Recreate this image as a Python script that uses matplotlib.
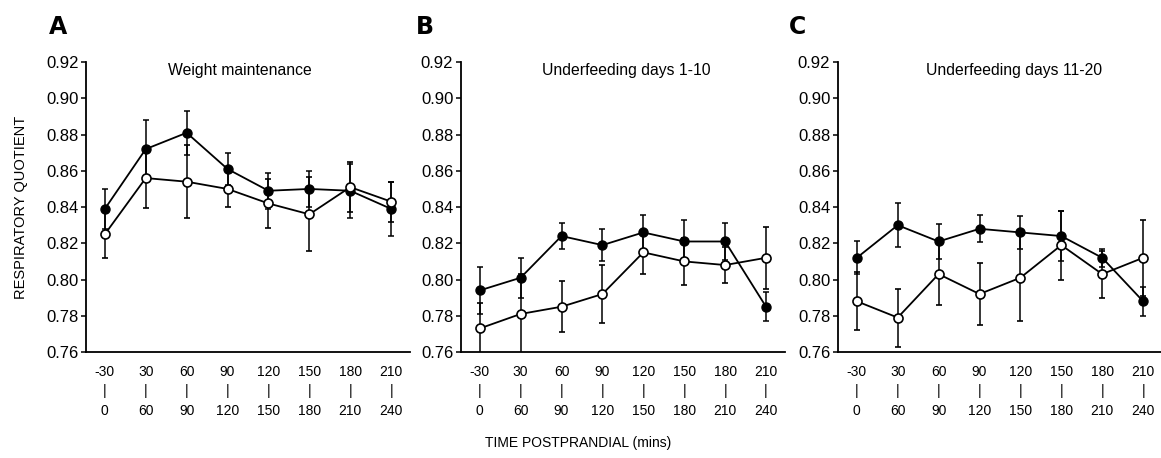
import numpy as np
import matplotlib
matplotlib.use('Agg')
import matplotlib.pyplot as plt

plt.rcParams['font.family'] = ['Liberation Sans', 'DejaVu Sans']

# 数据
top_labels = ['-30', '30', '60', '90', '120', '150', '180', '210']
bottom_labels = ['0', '60', '90', '120', '150', '180', '210', '240']
titles = ['Weight maintenance', 'Underfeeding days 1-10', 'Underfeeding days 11-20']
letters = ['A', 'B', 'C']

# 实心点
filled_a = [0.839, 0.872, 0.881, 0.861, 0.849, 0.850, 0.849, 0.839]
filled_a_err = [0.011, 0.016, 0.012, 0.009, 0.010, 0.010, 0.015, 0.015]
filled_b = [0.794, 0.801, 0.824, 0.819, 0.826, 0.821, 0.821, 0.785]
filled_b_err = [0.013, 0.011, 0.007, 0.009, 0.0095, 0.012, 0.010, 0.008]
filled_c = [0.812, 0.830, 0.821, 0.828, 0.826, 0.824, 0.812, 0.788]
filled_c_err = [0.009, 0.012, 0.0095, 0.0075, 0.009, 0.014, 0.005, 0.008]

# 空心点
open_a = [0.825, 0.856, 0.854, 0.850, 0.842, 0.836, 0.851, 0.843]
open_a_err = [0.013, 0.0165, 0.020, 0.010, 0.0137, 0.0205, 0.014, 0.011]
open_b = [0.773, 0.781, 0.785, 0.792, 0.815, 0.810, 0.808, 0.812]
open_b_err = [0.014, 0.022, 0.014, 0.016, 0.012, 0.013, 0.010, 0.017]
open_c = [0.788, 0.779, 0.803, 0.792, 0.801, 0.819, 0.803, 0.812]
open_c_err = [0.016, 0.016, 0.017, 0.017, 0.024, 0.019, 0.013, 0.021]

filled = [(filled_a, filled_a_err), (filled_b, filled_b_err), (filled_c, filled_c_err)]
opened = [(open_a, open_a_err), (open_b, open_b_err), (open_c, open_c_err)]

fig = plt.figure(figsize=(11.61, 4.58), dpi=100)
lefts = [0.0741, 0.397, 0.7218]
title_x = [0.475, 0.512, 0.544]
letter_x = [0.050, 0.366, 0.687]
x = np.arange(len(top_labels))

for i in range(3):
    ax = fig.add_axes([lefts[i], 0.2314, 0.279, 0.633])
    fy, fe = filled[i]
    oy, oe = opened[i]
    ax.errorbar(x, fy, yerr=fe, fmt='o-', color='black', mfc='black', mec='black',
                ms=6.5, lw=1.3, elinewidth=1.1, capsize=2.5, capthick=1.1)
    ax.errorbar(x, oy, yerr=oe, fmt='o-', color='black', mfc='white', mec='black',
                ms=6.5, mew=1.2, lw=1.3, elinewidth=1.1, capsize=2.5, capthick=1.1)
    ax.set_xlim(-0.46, 7.46)
    ax.set_ylim(0.76, 0.92)
    ax.set_yticks(np.arange(0.76, 0.921, 0.02))
    ax.set_yticklabels(['%.2f' % v for v in np.arange(0.76, 0.921, 0.02)])
    ax.set_xticks(x)
    ax.set_xticklabels([t + '\n|\n' + b for t, b in zip(top_labels, bottom_labels)])
    for t in ax.get_xticklabels():
        t.set_linespacing(1.5)
    ax.tick_params(axis='x', length=0, pad=9, labelsize=10)
    ax.tick_params(axis='y', direction='out', length=3.5, width=1.1, labelsize=12, pad=2)
    ax.spines['top'].set_visible(False)
    ax.spines['right'].set_visible(False)
    ax.spines['left'].set_linewidth(1.3)
    ax.spines['bottom'].set_linewidth(1.3)
    ax.text(title_x[i], 0.972, titles[i], transform=ax.transAxes, ha='center', va='center',
            fontsize=11.3)
    fig.text(letter_x[i], 0.94, letters[i], fontsize=17, fontweight='bold',
             ha='center', va='center', family=['DejaVu Sans'])

fig.text(0.018, 0.548, 'RESPIRATORY QUOTIENT', rotation=90, ha='center', va='center', fontsize=10.5)
fig.text(0.498, 0.033, 'TIME POSTPRANDIAL (mins)', ha='center', va='center', fontsize=10)

fig.savefig('out.png', dpi=100)
